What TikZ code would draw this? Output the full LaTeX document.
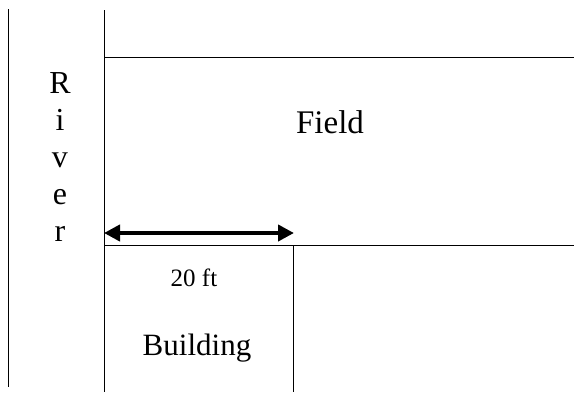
\documentclass[tikz,border=0pt]{standalone}
\usepackage{fontspec}
\setmainfont{Liberation Serif}
\usepackage{tikz}
\usetikzlibrary{arrows.meta,positioning}

\begin{document}
\begin{tikzpicture}[x=0.5pt,y=-0.5pt,line width=0.5pt,
  label/.style={inner sep=0pt},
  span/.style={{Triangle[length=8pt,width=8pt]}-{Triangle[length=8pt,width=8pt]},line width=2.2pt}]
  \useasboundingbox (0,0) rectangle (574,392);
  % river banks and field edges
  \coordinate (bank_top) at (8,9);
  \coordinate (bank_bot) at (8,387);
  \coordinate (edge_top) at (104,10);
  \coordinate (edge_bot) at (104,392);
  \draw (bank_top) -- (bank_bot);
  \draw (edge_top) -- (edge_bot);
  \draw (104,57) -- (574,57);
  \draw (104,245) -- (574,245);
  \draw (293,245) -- (293,392);
  % labels
  \node[label,align=center,font=\fontsize{16}{18.5}\selectfont] (river) at (60,157) {R\\i\\v\\e\\r};
  \node[label,font=\fontsize{16.5}{20}\selectfont] (field) at (330,122) {Field};
  \node[label,font=\fontsize{15.5}{18}\selectfont] (building) at (197,348) {Building};
  \node[label,font=\fontsize{12.5}{14}\selectfont] (width) at (194,278) {20 ft};
  % the 20 ft span
  \coordinate (span_l) at (104,233);
  \coordinate (span_r) at (294,233);
  \draw[span] (span_l) -- (span_r);
\end{tikzpicture}
\end{document}
